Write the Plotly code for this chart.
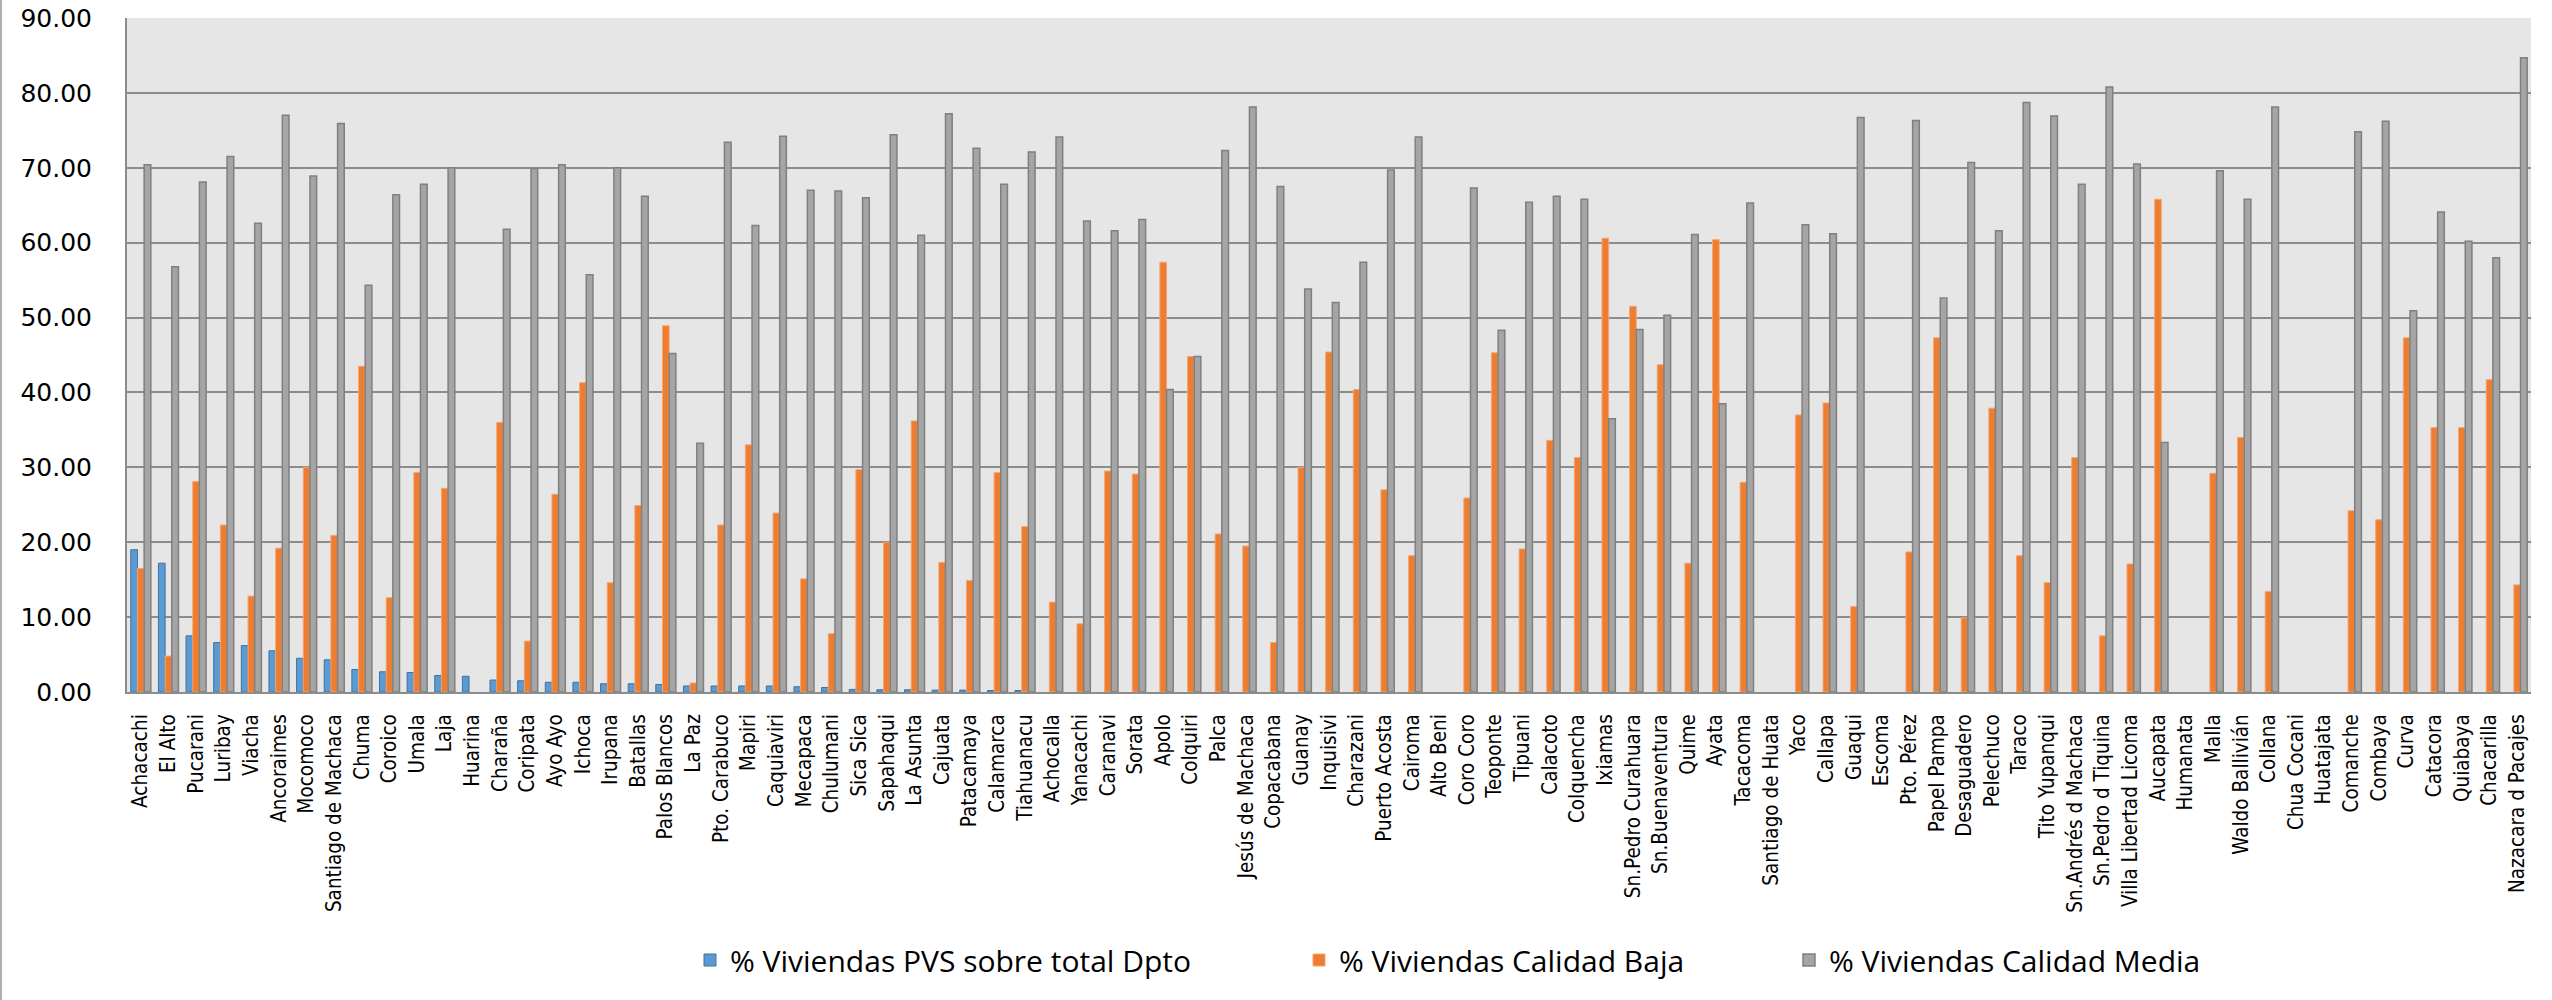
import plotly.graph_objects as go

municipios = [
    "Achacachi", "El Alto", "Pucarani", "Luribay", "Viacha", "Ancoraimes", "Mocomoco",
    "Santiago de Machaca", "Chuma", "Coroico", "Umala", "Laja", "Huarina", "Charaña",
    "Coripata", "Ayo Ayo", "Ichoca", "Irupana", "Batallas", "Palos Blancos", "La Paz",
    "Pto. Carabuco", "Mapiri", "Caquiaviri", "Mecapaca", "Chulumani", "Sica Sica",
    "Sapahaqui", "La Asunta", "Cajuata", "Patacamaya", "Calamarca", "Tiahuanacu",
    "Achocalla", "Yanacachi", "Caranavi", "Sorata", "Apolo", "Colquiri", "Palca",
    "Jesús de Machaca", "Copacabana", "Guanay", "Inquisivi", "Charazani", "Puerto Acosta",
    "Cairoma", "Alto Beni", "Coro Coro", "Teoponte", "Tipuani", "Calacoto", "Colquencha",
    "Ixiamas", "Sn.Pedro Curahuara", "Sn.Buenaventura", "Quime", "Ayata", "Tacacoma",
    "Santiago de Huata", "Yaco", "Callapa", "Guaqui", "Escoma", "Pto. Pérez", "Papel Pampa",
    "Desaguadero", "Pelechuco", "Taraco", "Tito Yupanqui", "Sn.Andrés d Machaca",
    "Sn.Pedro d Tiquina", "Villa Libertad Licoma", "Aucapata", "Humanata", "Malla",
    "Waldo Ballivián", "Collana", "Chua Cocani", "Huatajata", "Comanche", "Combaya",
    "Curva", "Catacora", "Quiabaya", "Chacarilla", "Nazacara d Pacajes",
]

pvs_total_dpto = [
    19.0, 17.2, 7.5, 6.6, 6.2, 5.5, 4.5, 4.3, 3.0, 2.7, 2.6, 2.2, 2.1, 1.6,
    1.5, 1.3, 1.3, 1.1, 1.1, 1.0, 0.8, 0.8, 0.8, 0.8, 0.7, 0.6, 0.35,
    0.3, 0.3, 0.25, 0.25, 0.2, 0.2,
] + [None] * 54

calidad_baja = [
    16.5, 4.8, 28.1, 22.3, 12.8, 19.2, 30.0, 20.9, 43.5, 12.6, 29.3, 27.2, None, 36.0,
    6.8, 26.4, 41.3, 14.6, 24.9, 48.9, 1.2, 22.3, 33.0, 23.9, 15.1, 7.8, 29.7,
    20.0, 36.2, 17.3, 14.9, 29.3, 22.1, 12.0, 9.1, 29.5, 29.1, 57.4, 44.8, 21.1,
    19.5, 6.6, 30.0, 45.4, 40.4, 27.0, 18.2, None, 25.9, 45.3, 19.1, 33.6, 31.3,
    60.6, 51.5, 43.7, 17.2, 60.4, 28.0, None, 37.0, 38.6, 11.4, None, 18.7, 47.3,
    9.9, 37.9, 18.2, 14.6, 31.3, 7.5, 17.1, 65.8, None, 29.2, 34.0, 13.4, None, None,
    24.2, 23.0, 47.3, 35.3, 35.3, 41.7, 14.3,
]

calidad_media = [
    70.4, 56.8, 68.1, 71.5, 62.6, 77.0, 68.9, 75.9, 54.3, 66.4, 67.8, 70.0, None, 61.8,
    69.9, 70.4, 55.7, 70.0, 66.2, 45.2, 33.2, 73.4, 62.3, 74.2, 67.0, 66.9, 66.0,
    74.4, 61.0, 77.2, 72.6, 67.8, 72.1, 74.1, 62.9, 61.6, 63.1, 40.4, 44.8, 72.3,
    78.1, 67.5, 53.8, 52.0, 57.4, 69.7, 74.1, None, 67.3, 48.3, 65.4, 66.2, 65.8,
    36.5, 48.4, 50.3, 61.1, 38.5, 65.3, None, 62.4, 61.2, 76.7, None, 76.3, 52.6,
    70.7, 61.6, 78.7, 76.9, 67.8, 80.8, 70.5, 33.3, None, 69.6, 65.8, 78.1, None, None,
    74.8, 76.2, 50.9, 64.1, 60.2, 58.0, 84.7,
]

series_names = [
    "% Viviendas PVS sobre total Dpto",
    "% Viviendas Calidad Baja",
    "% Viviendas Calidad Media",
]

y_ticks = [0, 10, 20, 30, 40, 50, 60, 70, 80, 90]

W, H = 2552, 1000
ML, MR, MT, MB = 127, 21, 18, 308
PW = W - ML - MR
PH = H - MT - MB

fig = go.Figure()
fig.add_trace(go.Bar(
    x=municipios, y=pvs_total_dpto, name=series_names[0], legend="legend",
    marker=dict(color="#5B9BD5", line=dict(color="#41719C", width=1)),
))
fig.add_trace(go.Bar(
    x=municipios, y=calidad_baja, name=series_names[1], legend="legend2",
    marker=dict(color="#ED7D31", line=dict(color="#F4A672", width=1)),
))
fig.add_trace(go.Bar(
    x=municipios, y=calidad_media, name=series_names[2], legend="legend3",
    marker=dict(color="#A5A5A5", line=dict(color="#808080", width=1.5)),
))

def px_to_paper_x(px):
    return (px - ML) / PW

legend_common = dict(
    orientation="h", yanchor="middle", xanchor="left", y=(H - MB - 960) / PH,
    font=dict(family="Open Sans, Noto Sans, sans-serif", size=30, color="#000000"),
    bgcolor="rgba(0,0,0,0)", borderwidth=0,
)

fig.update_layout(
    width=W, height=H, autosize=False,
    margin=dict(l=ML, r=MR, t=MT, b=MB, pad=0, autoexpand=False),
    paper_bgcolor="#FFFFFF",
    plot_bgcolor="#E6E6E6",
    barmode="group",
    bargap=0.275,
    bargroupgap=0,
    showlegend=True,
    legend=dict(legend_common, x=px_to_paper_x(690)),
    legend2=dict(legend_common, x=px_to_paper_x(1299)),
    legend3=dict(legend_common, x=px_to_paper_x(1789)),
    xaxis=dict(
        type="category", tickmode="linear", tick0=0, dtick=1,
        range=[-0.5, len(municipios) - 0.5],
        tickangle=-90, ticks="", ticklabelstandoff=12, automargin=False,
        tickfont=dict(family="Liberation Sans Narrow, DejaVu Sans Condensed, Liberation Sans, Arial", size=20.5, color="#000000"),
        showgrid=False, showline=True, linecolor="#8C8C8C", linewidth=2,
        zeroline=False, fixedrange=True,
    ),
    yaxis=dict(
        range=[0, 90], tickmode="array", tickvals=y_ticks,
        ticktext=[f"{v:.2f}" for v in y_ticks],
        ticks="", ticklabelstandoff=28, automargin=False,
        tickfont=dict(family="DejaVu Sans, Verdana, sans-serif", size=25, color="#000000"),
        showgrid=True, gridcolor="#8C8C8C", gridwidth=1.5,
        showline=True, linecolor="#8C8C8C", linewidth=2,
        zeroline=False, fixedrange=True,
    ),
    shapes=[dict(
        type="line", xref="paper", yref="paper",
        x0=px_to_paper_x(1), x1=px_to_paper_x(1),
        y0=(H - MB - H) / PH, y1=(H - MB) / PH,
        line=dict(color="#B0B0B0", width=2),
    )],
)

fig.write_html(
    "out.html",
    config={"displayModeBar": False},
    post_script="document.body.style.margin='0';document.body.style.overflow='hidden';",
)
